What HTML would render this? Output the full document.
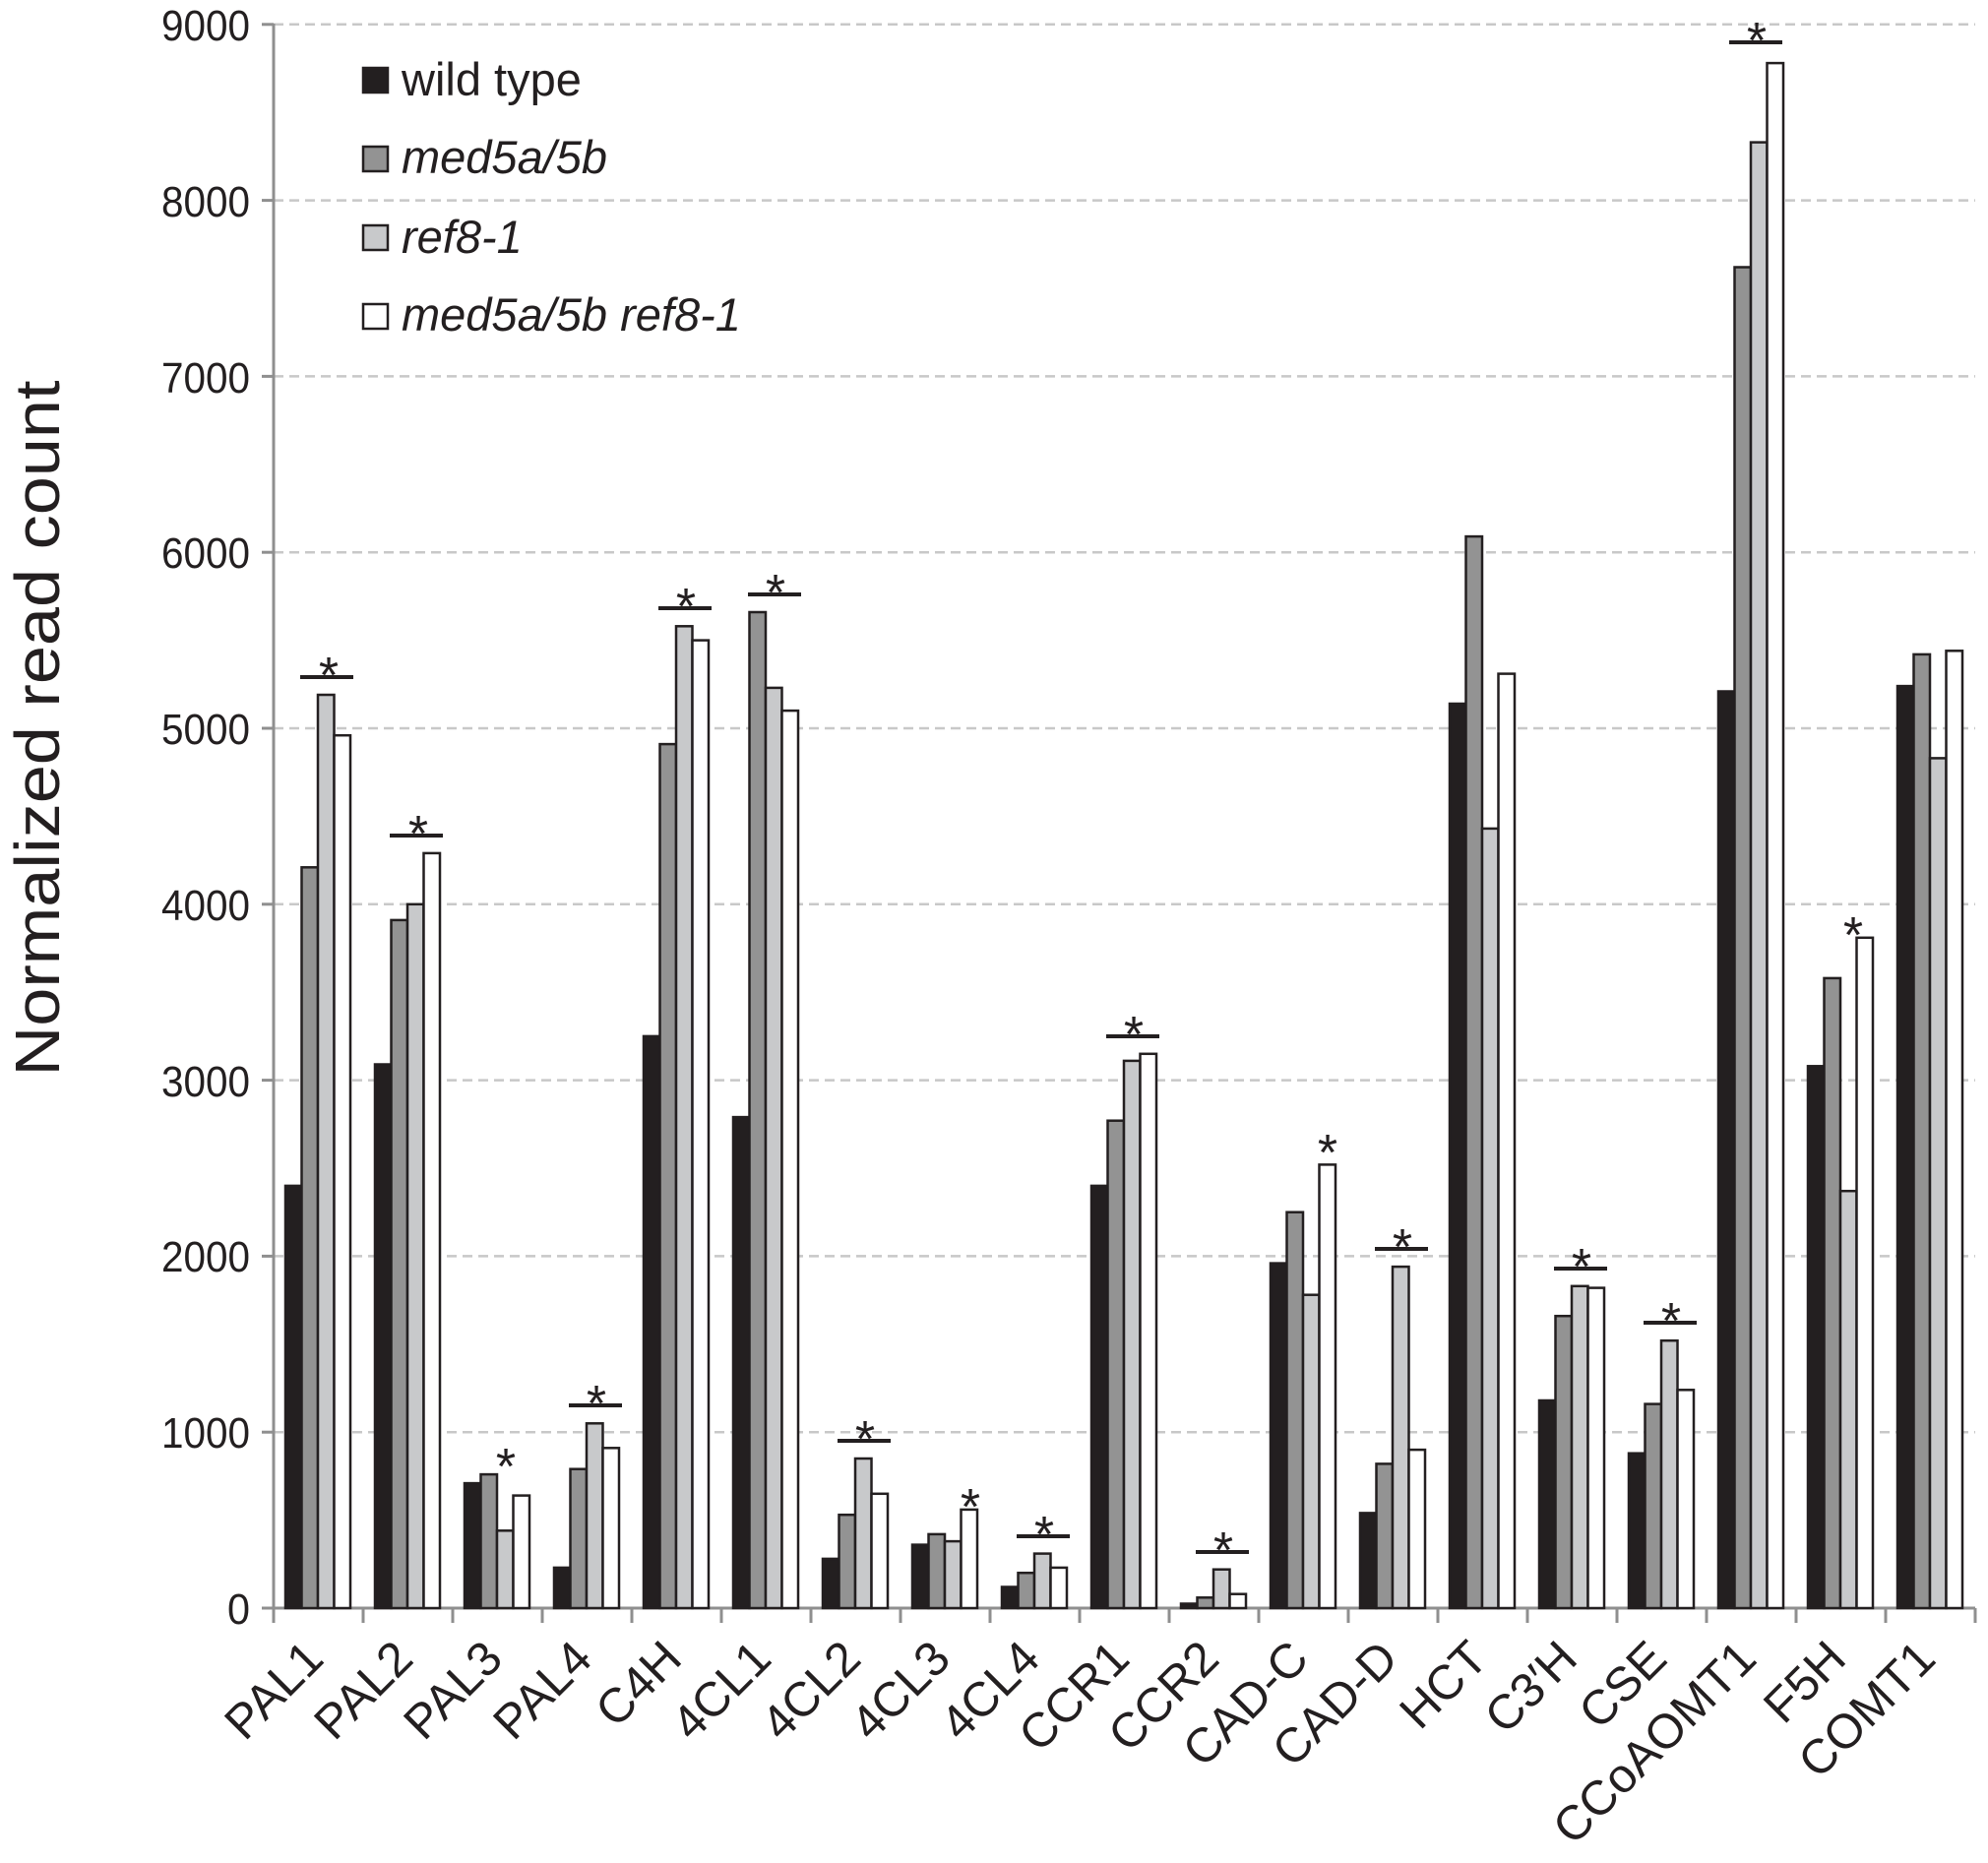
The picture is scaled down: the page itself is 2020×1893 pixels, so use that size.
<!DOCTYPE html>
<html><head><meta charset="utf-8"><style>
html,body{margin:0;padding:0;background:#fff;}
svg{display:block;font-family:"Liberation Sans",sans-serif;}
.k{fill:#231f20;stroke:#231f20;stroke-width:2.5}
.d{fill:#939393;stroke:#231f20;stroke-width:2.5}
.l{fill:#c8c9cb;stroke:#231f20;stroke-width:2.5}
.w{fill:#fff;stroke:#231f20;stroke-width:2.5}
.yt{font-size:44px;fill:#231f20;text-anchor:end}
.xt{font-size:49px;fill:#231f20;text-anchor:end}
.st{font-size:52px;fill:#231f20;text-anchor:middle}
.sg{stroke:#231f20;stroke-width:4}
</style></head><body>
<svg width="2020" height="1893" viewBox="0 0 2020 1893" xmlns="http://www.w3.org/2000/svg">
<g stroke="#c8c8c8" stroke-width="2.5" stroke-dasharray="10,6">
<line x1="278" x2="2007" y1="1455.2" y2="1455.2"/>
<line x1="278" x2="2007" y1="1276.4" y2="1276.4"/>
<line x1="278" x2="2007" y1="1097.6" y2="1097.6"/>
<line x1="278" x2="2007" y1="918.8" y2="918.8"/>
<line x1="278" x2="2007" y1="740" y2="740"/>
<line x1="278" x2="2007" y1="561.2" y2="561.2"/>
<line x1="278" x2="2007" y1="382.4" y2="382.4"/>
<line x1="278" x2="2007" y1="203.6" y2="203.6"/>
<line x1="278" x2="2007" y1="24.8" y2="24.8"/>
</g>
<g stroke="#8f8f8f" stroke-width="3">
<line x1="278" x2="278" y1="24" y2="1634"/>
<line x1="266" x2="2007" y1="1634" y2="1634"/>
<line x1="266" x2="278" y1="1455.2" y2="1455.2"/>
<line x1="266" x2="278" y1="1276.4" y2="1276.4"/>
<line x1="266" x2="278" y1="1097.6" y2="1097.6"/>
<line x1="266" x2="278" y1="918.8" y2="918.8"/>
<line x1="266" x2="278" y1="740" y2="740"/>
<line x1="266" x2="278" y1="561.2" y2="561.2"/>
<line x1="266" x2="278" y1="382.4" y2="382.4"/>
<line x1="266" x2="278" y1="203.6" y2="203.6"/>
<line x1="266" x2="278" y1="24.8" y2="24.8"/>
<line x1="278" x2="278" y1="1634" y2="1649"/><line x1="369" x2="369" y1="1634" y2="1649"/>
<line x1="460" x2="460" y1="1634" y2="1649"/><line x1="551" x2="551" y1="1634" y2="1649"/>
<line x1="642" x2="642" y1="1634" y2="1649"/><line x1="733" x2="733" y1="1634" y2="1649"/>
<line x1="824" x2="824" y1="1634" y2="1649"/><line x1="915" x2="915" y1="1634" y2="1649"/>
<line x1="1006" x2="1006" y1="1634" y2="1649"/><line x1="1097" x2="1097" y1="1634" y2="1649"/>
<line x1="1188" x2="1188" y1="1634" y2="1649"/><line x1="1279" x2="1279" y1="1634" y2="1649"/>
<line x1="1370" x2="1370" y1="1634" y2="1649"/><line x1="1461" x2="1461" y1="1634" y2="1649"/>
<line x1="1552" x2="1552" y1="1634" y2="1649"/><line x1="1643" x2="1643" y1="1634" y2="1649"/>
<line x1="1734" x2="1734" y1="1634" y2="1649"/><line x1="1825" x2="1825" y1="1634" y2="1649"/>
<line x1="1916" x2="1916" y1="1634" y2="1649"/><line x1="2007" x2="2007" y1="1634" y2="1649"/>
</g>
<g class="yt">
<text x="254" y="1650" textLength="23" lengthAdjust="spacingAndGlyphs">0</text>
<text x="254" y="1471" textLength="90" lengthAdjust="spacingAndGlyphs">1000</text>
<text x="254" y="1292" textLength="90" lengthAdjust="spacingAndGlyphs">2000</text>
<text x="254" y="1114" textLength="90" lengthAdjust="spacingAndGlyphs">3000</text>
<text x="254" y="935" textLength="90" lengthAdjust="spacingAndGlyphs">4000</text>
<text x="254" y="756" textLength="90" lengthAdjust="spacingAndGlyphs">5000</text>
<text x="254" y="577" textLength="90" lengthAdjust="spacingAndGlyphs">6000</text>
<text x="254" y="399" textLength="90" lengthAdjust="spacingAndGlyphs">7000</text>
<text x="254" y="220" textLength="90" lengthAdjust="spacingAndGlyphs">8000</text>
<text x="254" y="41" textLength="90" lengthAdjust="spacingAndGlyphs">9000</text>
</g>
<text transform="translate(60,740) rotate(-90)" text-anchor="middle" font-size="64" fill="#231f20" textLength="707" lengthAdjust="spacingAndGlyphs">Normalized read count</text>

<g transform="translate(278,1634) scale(1,-1)"><rect class="k" x="12" y="0" width="16.5" height="429.1"/><rect class="d" x="28.5" y="0" width="16.5" height="752.7"/><rect class="l" x="45" y="0" width="16.5" height="928"/><rect class="w" x="61.5" y="0" width="16.5" height="886.8"/></g>
<g transform="translate(369,1634) scale(1,-1)"><rect class="k" x="12" y="0" width="16.5" height="552.5"/><rect class="d" x="28.5" y="0" width="16.5" height="699.1"/><rect class="l" x="45" y="0" width="16.5" height="715.2"/><rect class="w" x="61.5" y="0" width="16.5" height="767.1"/></g>
<g transform="translate(460,1634) scale(1,-1)"><rect class="k" x="12" y="0" width="16.5" height="126.9"/><rect class="d" x="28.5" y="0" width="16.5" height="135.9"/><rect class="l" x="45" y="0" width="16.5" height="78.7"/><rect class="w" x="61.5" y="0" width="16.5" height="114.4"/></g>
<g transform="translate(551,1634) scale(1,-1)"><rect class="k" x="12" y="0" width="16.5" height="41.1"/><rect class="d" x="28.5" y="0" width="16.5" height="141.3"/><rect class="l" x="45" y="0" width="16.5" height="187.7"/><rect class="w" x="61.5" y="0" width="16.5" height="162.7"/></g>
<g transform="translate(642,1634) scale(1,-1)"><rect class="k" x="12" y="0" width="16.5" height="581.1"/><rect class="d" x="28.5" y="0" width="16.5" height="877.9"/><rect class="l" x="45" y="0" width="16.5" height="997.7"/><rect class="w" x="61.5" y="0" width="16.5" height="983.4"/></g>
<g transform="translate(733,1634) scale(1,-1)"><rect class="k" x="12" y="0" width="16.5" height="498.9"/><rect class="d" x="28.5" y="0" width="16.5" height="1012"/><rect class="l" x="45" y="0" width="16.5" height="935.1"/><rect class="w" x="61.5" y="0" width="16.5" height="911.9"/></g>
<g transform="translate(824,1634) scale(1,-1)"><rect class="k" x="12" y="0" width="16.5" height="50.1"/><rect class="d" x="28.5" y="0" width="16.5" height="94.8"/><rect class="l" x="45" y="0" width="16.5" height="152"/><rect class="w" x="61.5" y="0" width="16.5" height="116.2"/></g>
<g transform="translate(915,1634) scale(1,-1)"><rect class="k" x="12" y="0" width="16.5" height="64.4"/><rect class="d" x="28.5" y="0" width="16.5" height="75.1"/><rect class="l" x="45" y="0" width="16.5" height="67.9"/><rect class="w" x="61.5" y="0" width="16.5" height="100.1"/></g>
<g transform="translate(1006,1634) scale(1,-1)"><rect class="k" x="12" y="0" width="16.5" height="21.5"/><rect class="d" x="28.5" y="0" width="16.5" height="35.8"/><rect class="l" x="45" y="0" width="16.5" height="55.4"/><rect class="w" x="61.5" y="0" width="16.5" height="41.1"/></g>
<g transform="translate(1097,1634) scale(1,-1)"><rect class="k" x="12" y="0" width="16.5" height="429.1"/><rect class="d" x="28.5" y="0" width="16.5" height="495.3"/><rect class="l" x="45" y="0" width="16.5" height="556.1"/><rect class="w" x="61.5" y="0" width="16.5" height="563.2"/></g>
<g transform="translate(1188,1634) scale(1,-1)"><rect class="k" x="12" y="0" width="16.5" height="4.5"/><rect class="d" x="28.5" y="0" width="16.5" height="10.7"/><rect class="l" x="45" y="0" width="16.5" height="39.3"/><rect class="w" x="61.5" y="0" width="16.5" height="14.3"/></g>
<g transform="translate(1279,1634) scale(1,-1)"><rect class="k" x="12" y="0" width="16.5" height="350.4"/><rect class="d" x="28.5" y="0" width="16.5" height="402.3"/><rect class="l" x="45" y="0" width="16.5" height="318.3"/><rect class="w" x="61.5" y="0" width="16.5" height="450.6"/></g>
<g transform="translate(1370,1634) scale(1,-1)"><rect class="k" x="12" y="0" width="16.5" height="96.6"/><rect class="d" x="28.5" y="0" width="16.5" height="146.6"/><rect class="l" x="45" y="0" width="16.5" height="346.9"/><rect class="w" x="61.5" y="0" width="16.5" height="160.9"/></g>
<g transform="translate(1461,1634) scale(1,-1)"><rect class="k" x="12" y="0" width="16.5" height="919"/><rect class="d" x="28.5" y="0" width="16.5" height="1088.9"/><rect class="l" x="45" y="0" width="16.5" height="792.1"/><rect class="w" x="61.5" y="0" width="16.5" height="949.4"/></g>
<g transform="translate(1552,1634) scale(1,-1)"><rect class="k" x="12" y="0" width="16.5" height="211"/><rect class="d" x="28.5" y="0" width="16.5" height="296.8"/><rect class="l" x="45" y="0" width="16.5" height="327.2"/><rect class="w" x="61.5" y="0" width="16.5" height="325.4"/></g>
<g transform="translate(1643,1634) scale(1,-1)"><rect class="k" x="12" y="0" width="16.5" height="157.3"/><rect class="d" x="28.5" y="0" width="16.5" height="207.4"/><rect class="l" x="45" y="0" width="16.5" height="271.8"/><rect class="w" x="61.5" y="0" width="16.5" height="221.7"/></g>
<g transform="translate(1734,1634) scale(1,-1)"><rect class="k" x="12" y="0" width="16.5" height="931.5"/><rect class="d" x="28.5" y="0" width="16.5" height="1362.5"/><rect class="l" x="45" y="0" width="16.5" height="1489.4"/><rect class="w" x="61.5" y="0" width="16.5" height="1569.9"/></g>
<g transform="translate(1825,1634) scale(1,-1)"><rect class="k" x="12" y="0" width="16.5" height="550.7"/><rect class="d" x="28.5" y="0" width="16.5" height="640.1"/><rect class="l" x="45" y="0" width="16.5" height="423.8"/><rect class="w" x="61.5" y="0" width="16.5" height="681.2"/></g>
<g transform="translate(1916,1634) scale(1,-1)"><rect class="k" x="12" y="0" width="16.5" height="936.9"/><rect class="d" x="28.5" y="0" width="16.5" height="969.1"/><rect class="l" x="45" y="0" width="16.5" height="863.6"/><rect class="w" x="61.5" y="0" width="16.5" height="972.7"/></g>

<g class="sg">
<line x1="305" x2="359" y1="688" y2="688"/>
<line x1="396" x2="450" y1="849" y2="849"/>
<line x1="578" x2="632" y1="1428" y2="1428"/>
<line x1="669" x2="723" y1="618" y2="618"/>
<line x1="760" x2="814" y1="604" y2="604"/>
<line x1="851" x2="905" y1="1464" y2="1464"/>
<line x1="1033" x2="1087" y1="1561" y2="1561"/>
<line x1="1124" x2="1178" y1="1053" y2="1053"/>
<line x1="1215" x2="1269" y1="1577" y2="1577"/>
<line x1="1397" x2="1451" y1="1269" y2="1269"/>
<line x1="1579" x2="1633" y1="1289" y2="1289"/>
<line x1="1670" x2="1724" y1="1344" y2="1344"/>
<line x1="1757" x2="1811" y1="43" y2="43"/>
</g>
<g class="st">
<text x="334" y="704">*</text>
<text x="425" y="865">*</text>
<text x="606" y="1444">*</text>
<text x="697" y="634">*</text>
<text x="788" y="620">*</text>
<text x="879" y="1480">*</text>
<text x="1061" y="1577">*</text>
<text x="1152" y="1069">*</text>
<text x="1243" y="1593">*</text>
<text x="1425" y="1285">*</text>
<text x="1607" y="1305">*</text>
<text x="1698" y="1360">*</text>
<text x="1785" y="59">*</text>
<text x="514" y="1508">*</text>
<text x="986" y="1549">*</text>
<text x="1349" y="1189">*</text>
<text x="1883" y="968">*</text>
</g>

<g class="xt">
<text transform="translate(331,1688) rotate(-45)">PAL1</text>
<text transform="translate(422,1688) rotate(-45)">PAL2</text>
<text transform="translate(513,1688) rotate(-45)">PAL3</text>
<text transform="translate(604,1688) rotate(-45)">PAL4</text>
<text transform="translate(695,1688) rotate(-45)">C4H</text>
<text transform="translate(786,1688) rotate(-45)">4CL1</text>
<text transform="translate(877,1688) rotate(-45)">4CL2</text>
<text transform="translate(968,1688) rotate(-45)">4CL3</text>
<text transform="translate(1059,1688) rotate(-45)">4CL4</text>
<text transform="translate(1150,1688) rotate(-45)">CCR1</text>
<text transform="translate(1241,1688) rotate(-45)">CCR2</text>
<text transform="translate(1332,1688) rotate(-45)">CAD-C</text>
<text transform="translate(1423,1688) rotate(-45)">CAD-D</text>
<text transform="translate(1514,1688) rotate(-45)">HCT</text>
<text transform="translate(1605,1688) rotate(-45)">C3′H</text>
<text transform="translate(1696,1688) rotate(-45)">CSE</text>
<text transform="translate(1787,1688) rotate(-45)">CCoAOMT1</text>
<text transform="translate(1878,1688) rotate(-45)">F5H</text>
<text transform="translate(1969,1688) rotate(-45)">COMT1</text>
</g>

<rect class="k" x="369" y="69" width="25" height="25"/>
<rect class="d" x="369" y="149" width="25" height="25"/>
<rect class="l" x="369" y="229" width="25" height="25"/>
<rect class="w" x="369" y="309" width="25" height="25"/>
<g font-size="47" fill="#231f20">
<text x="408" y="97">wild type</text>
<text x="408" y="176" font-style="italic">med5a/5b</text>
<text x="408" y="257" font-style="italic">ref8-1</text>
<text x="408" y="336" font-style="italic">med5a/5b ref8-1</text>
</g>
</svg>
</body></html>
